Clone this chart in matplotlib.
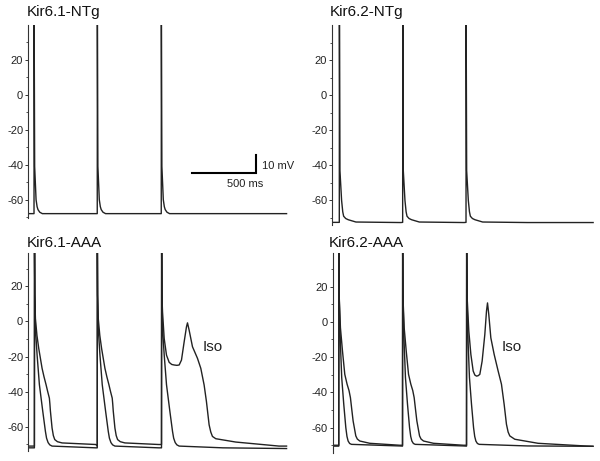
import matplotlib
matplotlib.use("Agg")
import matplotlib.pyplot as plt
import numpy as np

plt.rcParams["font.family"] = ["Liberation Sans", "DejaVu Sans"]
plt.rcParams["axes.unicode_minus"] = False

# panel titles
titles = ["Kir6.1-NTg", "Kir6.2-NTg", "Kir6.1-AAA", "Kir6.2-AAA"]

# AP onset times (ms) for each panel
onsets_61_ntg = [47, 541, 1041]
onsets_62_ntg = [57, 552, 1047]
onsets_61_aaa = [50, 541, 1043]
onsets_62_aaa = [49, 547, 1047]

# single AP waveforms: time from onset (ms), membrane potential (mV)
ntg61_t = [0, 1, 5, 16, 24, 31, 45, 65, 400]
ntg61_v = [-68, 45, -41, -60, -64, -65.7, -67.2, -68, -68]

ntg62_t = [0, 1, 5, 18, 27, 34, 50, 70, 130, 480]
ntg62_v = [-72.5, 45, -43, -60, -66.5, -69, -70.3, -71, -72.3, -72.6]

aaa61_ctrl_t = [0, 1, 3, 8, 21, 39, 65, 86, 95, 107, 120, 138, 480]
aaa61_ctrl_v = [-72, 42, 15, -4, -19, -36, -51, -62.6, -66.5, -69, -70.3, -71, -72]

aaa61_iso_t = [0, 1, 3, 8, 20, 34, 60, 75, 91, 104, 117, 121, 125, 138, 148, 159, 180, 216, 480]
aaa61_iso_v = [-71, 42, 15, 1.6, -8, -15.4, -26.7, -31.5, -36, -40, -43.7, -47, -51,
               -60.7, -65, -67.3, -68.5, -69.2, -70.1]

aaa61_ead_t = [0, 1, 3, 8, 21, 39, 60, 80, 99, 120, 138, 156, 177, 195, 203, 216, 242, 281,
               307, 333, 351, 372, 385, 398, 424, 580, 918]
aaa61_ead_v = [-70.1, 42, 15, 5.4, -9.7, -19.2, -23.3, -24.5, -24.8, -25, -24.8, -22, -11.6,
               -3.1, -0.8, -5, -14.4, -21, -26.7, -36.2, -45.6, -58.9, -63, -65.5, -66.8,
               -68.7, -71]

aaa62_ctrl_t = [0, 1, 3, 13, 23, 39, 55, 64, 73, 85, 99, 476]
aaa62_ctrl_v = [-70.5, 42, 15, -12.8, -31.7, -46.8, -60, -65, -67.6, -69, -69.5, -70.4]

aaa62_iso_t = [0, 1, 3, 13, 29, 47, 65, 80, 91, 102, 112, 133, 145, 164, 242, 476]
aaa62_iso_v = [-70, 42, 15, -3.4, -16.6, -29.8, -35.4, -39, -43, -50, -56.2, -64.7, -66.5,
               -67.6, -68.9, -70]

aaa62_ead_t = [0, 1, 5, 18, 34, 52, 65, 78, 90, 104, 122, 143, 156, 164, 174, 190, 216, 247,
               273, 294, 312, 325, 338, 377, 559, 923]
aaa62_ead_v = [-70, 42, 13.6, -5.3, -18.5, -27.9, -30.2, -30.8, -30.6, -29.8, -22.3, -7.2, 6,
               10.7, 4.1, -9.1, -18.5, -27.9, -35.4, -46.8, -58.1, -62.5, -64.7, -66.6,
               -68.9, -70.4]

# end of recording shown (ms) and last potential (mV)
end_61_ntg = (2020, -68)
end_62_ntg = (2040, -72.6)
end_61_aaa_ctrl = (2020, -72.4)
end_61_aaa_iso = (2020, -71)
end_62_aaa_ctrl = (2035, -70.6)
end_62_aaa_iso = (2035, -70.6)

# scale bar
bar_t = 500
bar_v = 10

PX_PER_MS = 0.128
W, H = 600, 461


def build_trace(onsets, waves, end):
    t = [0.0]
    v = [waves[0][1][0]]
    for onset, (wt, wv) in zip(onsets, waves):
        t.extend(onset + np.array(wt, dtype=float))
        v.extend(wv)
    t.append(end[0])
    v.append(end[1])
    return np.array(t), np.array(v)


def make_axes(fig, left_px, top_px, bottom_px, t_max, ylim):
    width_px = t_max * PX_PER_MS
    ax = fig.add_axes([left_px / W, 1 - bottom_px / H, width_px / W, (bottom_px - top_px) / H])
    ax.set_xlim(0, t_max)
    ax.set_ylim(*ylim)
    for side in ["top", "right", "bottom"]:
        ax.spines[side].set_visible(False)
    ax.spines["left"].set_linewidth(0.8)
    ax.spines["left"].set_color("#333333")
    ax.set_xticks([])
    ax.set_yticks([-60, -40, -20, 0, 20])
    ax.set_yticks([-70, -50, -30, -10, 10, 30], minor=True)
    ax.tick_params(axis="y", which="major", length=2.5, width=0.7, pad=1,
                   labelsize=8, colors="#333333", labelcolor="#222222")
    ax.tick_params(axis="y", which="minor", length=1.6, width=0.6, colors="#333333")
    ax.patch.set_alpha(0)
    return ax


fig = plt.figure(figsize=(W / 100, H / 100), dpi=100)

trace_style = dict(color="#222222", lw=1.0, clip_on=True)

# Kir6.1-NTg
ax1 = make_axes(fig, 28, 25, 218, 2030, (-70.5, 40))
t, v = build_trace(onsets_61_ntg, [(ntg61_t, ntg61_v)] * 3, end_61_ntg)
ax1.plot(t, v, **trace_style)
x0, y0 = 1779, -44.7
ax1.plot([x0 - bar_t, x0, x0], [y0, y0, y0 + bar_v], color="black", lw=1.5,
         solid_joinstyle="miter", clip_on=False)
ax1.text(x0 + 50, y0 + 4, "10 mV", fontsize=8, ha="left", va="center", color="#222222")
ax1.text(x0 - 225, y0 - 6.5, "500 ms", fontsize=8, ha="left", va="center", color="#222222")

# Kir6.2-NTg
ax2 = make_axes(fig, 332, 25, 225, 2045, (-74, 40))
t, v = build_trace(onsets_62_ntg, [(ntg62_t, ntg62_v)] * 3, end_62_ntg)
ax2.plot(t, v, **trace_style)

# Kir6.1-AAA
ax3 = make_axes(fig, 28, 253, 451, 2030, (-73.8, 39))
t, v = build_trace(onsets_61_aaa, [(aaa61_ctrl_t, aaa61_ctrl_v)] * 3, end_61_aaa_ctrl)
ax3.plot(t, v, **trace_style)
t, v = build_trace(onsets_61_aaa,
                   [(aaa61_iso_t, aaa61_iso_v)] * 2 + [(aaa61_ead_t, aaa61_ead_v)],
                   end_61_aaa_iso)
ax3.plot(t, v, **trace_style)
ax3.text(1445, -14.5, "Iso", fontsize=11, ha="center", va="center", color="#222222")

# Kir6.2-AAA
ax4 = make_axes(fig, 332.5, 253, 453, 2040, (-74.4, 39))
t, v = build_trace(onsets_62_aaa, [(aaa62_ctrl_t, aaa62_ctrl_v)] * 3, end_62_aaa_ctrl)
ax4.plot(t, v, **trace_style)
t, v = build_trace(onsets_62_aaa,
                   [(aaa62_iso_t, aaa62_iso_v)] * 2 + [(aaa62_ead_t, aaa62_ead_v)],
                   end_62_aaa_iso)
ax4.plot(t, v, **trace_style)
ax4.text(1400, -14.5, "Iso", fontsize=11, ha="center", va="center", color="#222222")

# panel titles
title_pos = [(27, 12), (330, 12), (27, 243), (329, 243)]
for label, (x, y) in zip(titles, title_pos):
    fig.text(x / W, 1 - y / H, label, fontsize=11, ha="left", va="center", color="#111111")

fig.savefig("out.png", dpi=100)
